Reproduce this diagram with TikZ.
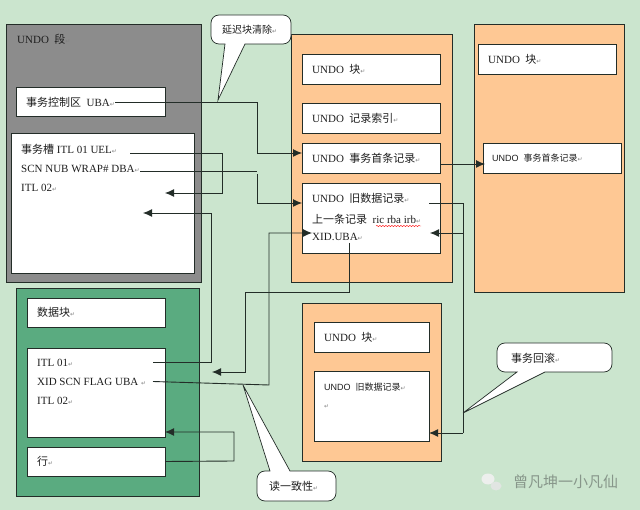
\documentclass[tikz,border=0pt]{standalone}
\usepackage{fontspec}
\setmainfont{Liberation Serif}
\newfontfamily\zhfont{Noto Sans CJK SC}
\newfontfamily\symfont{DejaVu Sans}
\newfontfamily\smallfont{Liberation Sans}
\usepackage{tikz}
\usetikzlibrary{arrows.meta, snakes}
\definecolor{pagegreen}{RGB}{203,229,206}
\definecolor{seggrey}{RGB}{140,140,140}
\definecolor{blockgreen}{RGB}{90,171,128}
\definecolor{undoorange}{RGB}{254,200,148}
\definecolor{linegrey}{RGB}{35,45,40}
\definecolor{markgrey}{RGB}{130,130,130}
\definecolor{textgrey}{RGB}{30,30,30}
\definecolor{stampgrey}{RGB}{135,150,138}
\newcommand{\zh}[1]{{\zhfont #1}}
\newcommand{\pmark}{{\symfont\fontsize{6}{6}\selectfont\color{markgrey}↵}}
\tikzset{
  panel/.style={draw=linegrey, line width=0.7pt, anchor=north west, inner sep=0pt, outer sep=0pt},
  whitebox/.style={panel, fill=white},
  label/.style={anchor=west, inner sep=0pt, text=textgrey, font=\fontsize{11}{11}\selectfont},
  smalllabel/.style={anchor=west, inner sep=0pt, text=textgrey, font=\smallfont\fontsize{9}{9}\selectfont},
  link/.style={draw=linegrey, line width=0.9pt},
  linkarrow/.style={link, -{Latex[length=9pt,width=8pt]}},
  callout/.style={draw=linegrey, line width=0.7pt, fill=white},
}
\begin{document}
\begin{tikzpicture}[x=1pt, y=-1pt]
\useasboundingbox[fill=pagegreen] (0,0) rectangle (640,510);

\node[panel, fill=seggrey, minimum width=195pt, minimum height=258pt] (segment) at (6,24) {};
\node[whitebox, minimum width=149pt, minimum height=29pt] (ctlbox) at (16,87) {};
\node[whitebox, minimum width=183pt, minimum height=140pt] (slotbox) at (11,133) {};

\node[panel, fill=blockgreen, minimum width=183pt, minimum height=208pt] (datablock) at (16,288) {};
\node[whitebox, minimum width=138pt, minimum height=29pt] (datahead) at (27,298) {};
\node[whitebox, minimum width=138pt, minimum height=89pt] (itlbox) at (27,348) {};
\node[whitebox, minimum width=138pt, minimum height=29pt] (rowbox) at (27,447) {};

\node[panel, fill=undoorange, minimum width=161pt, minimum height=248pt] (undoa) at (291,34) {};
\node[whitebox, minimum width=138pt, minimum height=30pt] (undoahead) at (302,54) {};
\node[whitebox, minimum width=138pt, minimum height=30pt] (undoaindex) at (302,103) {};
\node[whitebox, minimum width=138pt, minimum height=30pt] (undoafirst) at (302,143) {};
\node[whitebox, minimum width=138pt, minimum height=70pt] (undoaold) at (302,183) {};

\node[panel, fill=undoorange, minimum width=150pt, minimum height=268pt] (undob) at (474,24) {};
\node[whitebox, minimum width=138pt, minimum height=30pt] (undobhead) at (478,44) {};
\node[whitebox, minimum width=138pt, minimum height=30pt] (undobfirst) at (483,143) {};

\node[panel, fill=undoorange, minimum width=139pt, minimum height=158pt] (undoc) at (302,303) {};
\node[whitebox, minimum width=115pt, minimum height=30pt] (undochead) at (314,322) {};
\node[whitebox, minimum width=115pt, minimum height=70pt] (undocold) at (314,371) {};

\node[label] (segtitle) at (17,39) {UNDO\ \ \zh{段}\pmark};
\node[label] (ctltext) at (26,102) {\zh{事务控制区}\ \ UBA\pmark};
\node[label] (slotone) at (21,149) {\zh{事务槽} ITL 01\ UEL\pmark};
\node[label] (slottwo) at (21,169) {SCN NUB WRAP\# DBA\pmark};
\node[label] (slotthree) at (21,188) {ITL 02\pmark};

\node[label] (headtext) at (37,312) {\zh{数据块}\pmark};
\node[label] (itlone) at (37,363) {ITL 01\pmark};
\node[label] (itlxid) at (37,382) {XID SCN FLAG UBA\ \pmark};
\node[label] (itltwo) at (37,401) {ITL 02\pmark};
\node[label] (rowtext) at (37,461) {\zh{行}\pmark};

\node[label] (ahead) at (312,69) {UNDO\ \ \zh{块}\pmark};
\node[label] (aindex) at (312,118) {UNDO\ \ \zh{记录索引}\pmark};
\node[label] (afirst) at (312,158) {UNDO\ \ \zh{事务首条记录}\pmark};
\node[label] (aold) at (312,198) {UNDO\ \ \zh{旧数据记录}\pmark};
\node[label] (aprev) at (312,219) {\zh{上一条记录}\ \ ric rba irb\pmark};
\node[label] (axid) at (312,237) {XID.UBA\pmark};

\node[label] (bhead) at (488,59) {UNDO\ \ \zh{块}\pmark};
\node[smalllabel] (bfirst) at (492,158) {UNDO\ \ \zh{事务首条记录}\pmark};

\node[label] (chead) at (324,337) {UNDO\ \ \zh{块}\pmark};
\node[smalllabel] (cold) at (324,387) {UNDO\ \ \zh{旧数据记录}\pmark};
\node[smalllabel] (cmark) at (324,407) {\pmark};

\draw[red, line width=0.4pt, snake=snake, segment length=3pt, segment amplitude=0.6pt] (376,226) -- (421,226);

\draw[callout] (251,15) [rounded corners=8pt] -- (291,15) -- (291,44) [sharp corners] -- (245,44) -- (218,100) -- (225,44) [rounded corners=8pt] -- (211,44) -- (211,15) -- cycle;
\draw[callout] (296,471) [rounded corners=8pt] -- (336,471) -- (336,501) -- (257,501) -- (257,471) [sharp corners] -- (270,471) -- (243,385) -- (290,471) -- cycle;
\draw[callout] (555,343) [rounded corners=8pt] -- (612,343) -- (612,372) [sharp corners] -- (545,372) -- (463,413) -- (517,372) [rounded corners=8pt] -- (497,372) -- (497,343) -- cycle;

\node[smalllabel, font=\zhfont\fontsize{10}{10}\selectfont] (latetext) at (222,30) {延迟块清除\pmark};
\node[label] (readtext) at (269,486) {\zh{读一致性}\pmark};
\node[label] (rolltext) at (511,358) {\zh{事务回滚}\pmark};

\coordinate (firstin) at (257,153);
\coordinate (slotstart) at (130,153);
\coordinate (slotturn) at (222,153);
\coordinate (slotend) at (165,193);
\coordinate (dbastart) at (140,171);
\coordinate (dbaturn) at (257,171);
\coordinate (dbadown) at (257,174);
\coordinate (oldin) at (257,203);
\coordinate (itlstart) at (153,362);
\coordinate (itlturn) at (211,362);
\coordinate (itlend) at (143,213);
\coordinate (ubastart) at (349,243);
\coordinate (ubaturn) at (349,292);
\coordinate (ubaside) at (245,292);
\coordinate (ubadown) at (245,372);
\coordinate (ubaend) at (212,372);
\coordinate (xidstart) at (153,381.5);
\coordinate (xidturn) at (269,385);
\coordinate (xidtop) at (269,233);
\coordinate (xidend) at (312,233);
\coordinate (rowout) at (234,461);
\coordinate (rowup) at (234,432);
\coordinate (firstout) at (441,164);
\coordinate (firstend) at (485,164);
\coordinate (oldstart) at (429,203);
\coordinate (oldturn) at (463,203);
\coordinate (oldmid) at (463,233);
\coordinate (oldback) at (430,233);
\coordinate (oldbottom) at (463,433);

\draw[linkarrow] (ctltext.east) -| (firstin) -- (undoafirst.west |- firstin);
\draw[linkarrow] (slotstart) -- (slotturn) -- (slotturn |- slotend) -- (slotend);
\draw[link] (dbastart) -- (dbaturn);
\draw[linkarrow] (dbadown) -- (oldin) -- (undoaold.west |- oldin);
\draw[linkarrow] (itlstart) -- (itlturn) -- (itlturn |- itlend) -- (itlend);
\draw[linkarrow] (ubastart) -- (ubaturn) -- (ubaside) -- (ubadown) -- (ubaend);
\draw[linkarrow] (xidstart) -- (xidturn) -- (xidtop) -- (xidend);
\draw[linkarrow] (rowbox.east) -- (rowout) -- (rowup) -- (itlbox.east |- rowup);
\draw[linkarrow] (firstout) -- (firstend);
\draw[link] (oldstart) -- (oldturn) -- (oldbottom);
\draw[linkarrow] (oldmid) -- (oldback);
\draw[linkarrow] (oldbottom) -- (undocold.east |- oldbottom);

\fill[white!85!stampgrey] (488,479) ellipse (6.5pt and 5.5pt);
\fill[white!75!stampgrey] (496,486) ellipse (5.5pt and 4.5pt);
\node[label, text=stampgrey, font=\zhfont\fontsize{15}{15}\selectfont] (stamp) at (513,482) {曾凡坤一小凡仙};
\end{tikzpicture}
\end{document}
